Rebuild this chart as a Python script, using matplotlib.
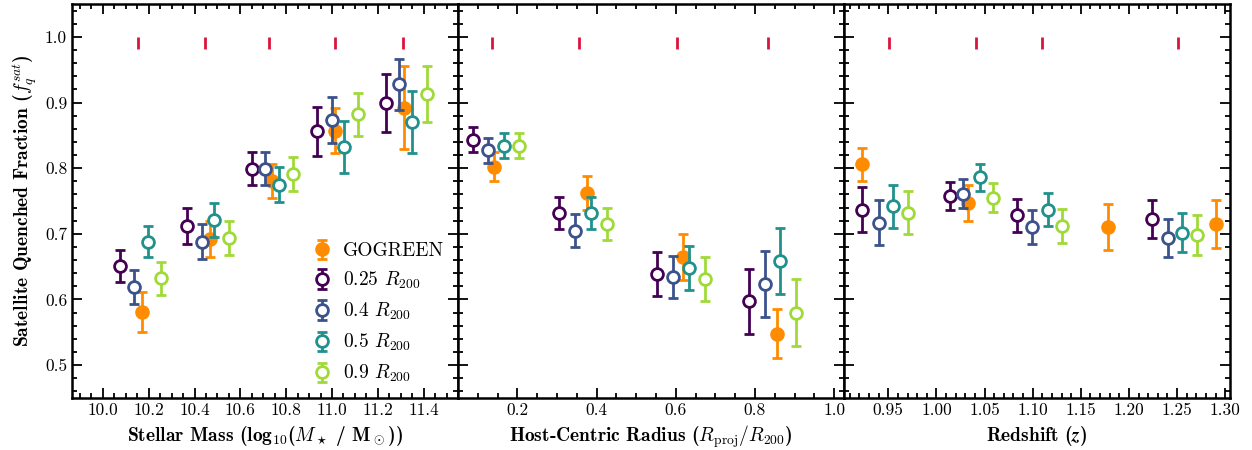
import numpy as np
import matplotlib
matplotlib.use("Agg")
from matplotlib import pyplot as plt
from matplotlib import ticker

plt.rcParams["font.family"] = "cmr10"
plt.rcParams["mathtext.fontset"] = "cm"
plt.rcParams["axes.formatter.use_mathtext"] = True

## data #####################################################################
# series order: GOGREEN, 0.25 R200, 0.4 R200, 0.5 R200, 0.9 R200
labels = ["GOGREEN", r"0.25 $R_{200}$", r"0.4 $R_{200}$",
          r"0.5 $R_{200}$", r"0.9 $R_{200}$"]
colors = ["#ff8c00", "#440154", "#3b528b", "#21918c", "#a0da39"]

# stellar mass panel
mass_x = [
    [10.172, 10.468, 10.738, 11.012, 11.313],
    [10.076, 10.368, 10.651, 10.934, 11.235],
    [10.137, 10.433, 10.708, 10.999, 11.291],
    [10.198, 10.486, 10.769, 11.052, 11.348],
    [10.255, 10.551, 10.830, 11.112, 11.413],
]
mass_y = [
    [0.581, 0.692, 0.781, 0.857, 0.892],
    [0.651, 0.712, 0.799, 0.856, 0.899],
    [0.619, 0.688, 0.799, 0.874, 0.928],
    [0.688, 0.721, 0.775, 0.832, 0.870],
    [0.632, 0.694, 0.791, 0.882, 0.913],
]
mass_err = [
    [0.030, 0.027, 0.026, 0.034, 0.063],
    [0.025, 0.027, 0.025, 0.037, 0.044],
    [0.026, 0.027, 0.025, 0.035, 0.039],
    [0.024, 0.026, 0.027, 0.040, 0.047],
    [0.025, 0.026, 0.026, 0.033, 0.042],
]
mass_bins = [10.155, 10.446, 10.725, 11.012, 11.309]

# host-centric radius panel
rad_x = [
    [0.140, 0.376, 0.618, 0.857],
    [0.087, 0.306, 0.552, 0.786],
    [0.127, 0.346, 0.592, 0.826],
    [0.165, 0.386, 0.633, 0.864],
    [0.205, 0.426, 0.673, 0.904],
]
rad_y = [
    [0.802, 0.762, 0.664, 0.548],
    [0.843, 0.732, 0.639, 0.597],
    [0.827, 0.705, 0.635, 0.624],
    [0.834, 0.732, 0.648, 0.659],
    [0.834, 0.715, 0.631, 0.580],
]
rad_err = [
    [0.022, 0.026, 0.035, 0.037],
    [0.019, 0.024, 0.033, 0.050],
    [0.019, 0.025, 0.032, 0.050],
    [0.019, 0.024, 0.033, 0.050],
    [0.019, 0.024, 0.033, 0.051],
]
rad_bins = [0.137, 0.356, 0.603, 0.834]

# redshift panel
z_x = [
    [0.923, 1.033, 1.178, 1.290],
    [0.923, 1.014, 1.084, 1.224],
    [0.940, 1.028, 1.099, 1.241],
    [0.955, 1.045, 1.116, 1.255],
    [0.970, 1.059, 1.130, 1.271],
]
z_y = [
    [0.806, 0.747, 0.710, 0.715],
    [0.737, 0.758, 0.728, 0.723],
    [0.717, 0.761, 0.710, 0.694],
    [0.742, 0.786, 0.737, 0.702],
    [0.732, 0.755, 0.712, 0.698],
]
z_err = [
    [0.025, 0.027, 0.035, 0.037],
    [0.034, 0.021, 0.025, 0.029],
    [0.034, 0.022, 0.026, 0.029],
    [0.033, 0.021, 0.025, 0.030],
    [0.033, 0.022, 0.026, 0.030],
]
z_bins = [0.951, 1.041, 1.110, 1.251]


## plot helpers #############################################################

def draw_panel(axe, X, Y, E, bins):
    for i in range(len(X)):
        if i == 0:
            axe.errorbar(X[i], Y[i], yerr=E[i], fmt="o", color=colors[i],
                         ms=9.5, elinewidth=2, capsize=3.5, capthick=2,
                         label=labels[i], zorder=2)
        else:
            axe.errorbar(X[i], Y[i], yerr=E[i], fmt="o", color=colors[i],
                         mfc="white", mec=colors[i], mew=2, ms=8.5,
                         elinewidth=2, capsize=3.5, capthick=2,
                         label=labels[i], zorder=3)
    axe.plot(bins, [0.99] * len(bins), ls="none", marker="|", ms=9,
             mew=2, color="crimson")


def style_axe(axe, xmajor, xminor):
    axe.xaxis.set_major_locator(ticker.MultipleLocator(xmajor))
    axe.xaxis.set_minor_locator(ticker.MultipleLocator(xminor))
    axe.yaxis.set_major_locator(ticker.MultipleLocator(0.1))
    axe.yaxis.set_minor_locator(ticker.MultipleLocator(0.02))
    axe.tick_params(which="both", direction="in", top=True, right=True,
                    width=1.3, labelsize=12.5)
    axe.tick_params(which="major", length=7)
    axe.tick_params(which="minor", length=3.5)
    for s in axe.spines.values():
        s.set_linewidth(1.8)


fig = plt.figure(figsize=(12.52, 4.5), dpi=100)
x0, x1 = 72 / 1252, 1230 / 1252
w = (x1 - x0) / 3
b, t = 1 - 398 / 450, 1 - 4 / 450
ax1 = fig.add_axes([x0, b, w, t - b])
ax2 = fig.add_axes([x0 + w, b, w, t - b], sharey=ax1)
ax3 = fig.add_axes([x0 + 2 * w, b, w, t - b], sharey=ax1)

draw_panel(ax1, mass_x, mass_y, mass_err, mass_bins)
draw_panel(ax2, rad_x, rad_y, rad_err, rad_bins)
draw_panel(ax3, z_x, z_y, z_err, z_bins)

style_axe(ax1, 0.2, 0.05)
style_axe(ax2, 0.2, 0.05)
style_axe(ax3, 0.05, 0.01)

ax1.set_xlim(9.865, 11.55)
ax2.set_xlim(0.05, 1.025)
ax3.set_xlim(0.904, 1.305)
ax1.set_ylim(0.45, 1.05)
ax2.tick_params(labelleft=False)
ax3.tick_params(labelleft=False)

ax1.xaxis.set_major_formatter(ticker.FormatStrFormatter("%.1f"))
ax2.xaxis.set_major_formatter(ticker.FormatStrFormatter("%.1f"))
ax3.xaxis.set_major_formatter(ticker.FormatStrFormatter("%.2f"))
ax1.yaxis.set_major_formatter(ticker.FormatStrFormatter("%.1f"))

lab = dict(fontsize=14, fontfamily="cmb10")
ax1.set_xlabel(r"Stellar Mass (log$_{\mathbf{10}}$($\boldsymbol{M_\star}$ / M$_\odot$))", **lab)
ax2.set_xlabel(r"Host-Centric Radius ($\boldsymbol{R_{\rm proj}/R_{200}}$)", **lab)
ax3.set_xlabel(r"Redshift ($\boldsymbol{z}$)", **lab)
ax1.set_ylabel(r"Satellite Quenched Fraction ($\boldsymbol{f_q^{sat}}$)", **lab)

ax1.legend(loc="lower right", frameon=False, fontsize=14,
           handletextpad=0.5, borderaxespad=0.3, labelspacing=0.5,
           handlelength=1.2)

fig.savefig("out.png", dpi=100)
